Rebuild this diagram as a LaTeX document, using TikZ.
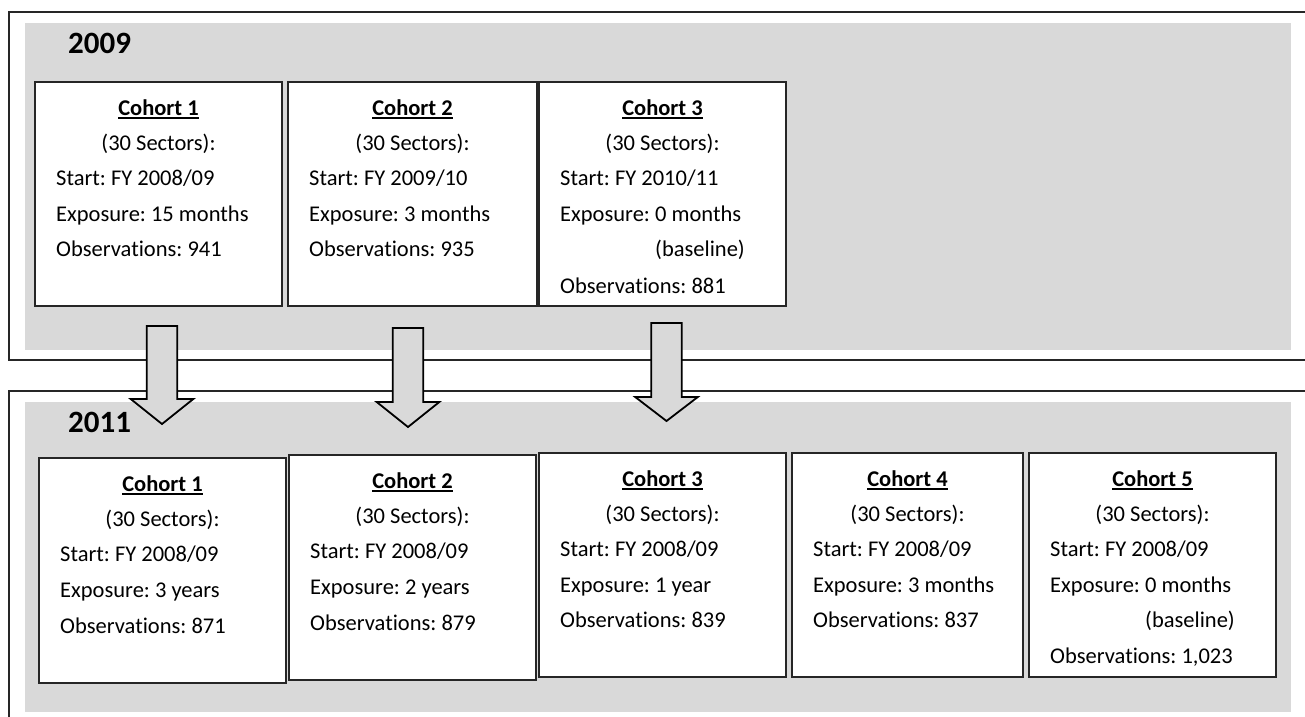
\documentclass[tikz,border=0pt]{standalone}
\usepackage{fontspec}
\setmainfont{Carlito}[Ligatures={NoCommon}]
\frenchspacing
\usetikzlibrary{calc}
\definecolor{panelgray}{RGB}{217,217,217}
\newcommand\myul[1]{\setbox0\hbox{#1}\rlap{\rule[-3.8pt]{\wd0}{1.8pt}}\box0}
\tikzset{
 frameline/.style={draw=black!85, line width=2pt},
 panel/.style={fill=panelgray, draw=none},
 cbox/.style={draw=black!85, line width=2.4pt, fill=white, inner sep=0pt, outer sep=0pt, anchor=north west},
 ctext/.style={font=\fontsize{22.5}{27}\selectfont, inner sep=0pt},
 ctitle/.style={font=\fontsize{22.5}{27}\selectfont\bfseries, inner sep=0pt, anchor=base},
 yearlabel/.style={font=\fontsize{31}{36}\selectfont\bfseries, inner sep=0pt, anchor=base west},
 blockarrow/.style={draw=black, line width=1.8pt, fill=panelgray, line join=miter},
}
% name, left, top, right, bottom, title, start, exposure
\newcommand\cohortbox[8]{%
 \node[cbox, minimum width={#4-#2}, minimum height={#5-#3}] (#1) at (#2,#3) {};
 \node[ctitle] (#1-t) at ($(#1.north)+(0,33)$) {\myul{#6}};
 \node[ctext, anchor=base] (#1-s) at ($(#1.north)+(0,68.4)$) {(30 Sectors):};
 \node[ctext, anchor=base west] (#1-st) at ($(#1.north west)+(21,103.8)$) {Start: FY #7};
 \node[ctext, anchor=base west] (#1-e) at ($(#1.north west)+(21,139.2)$) {Exposure: #8};
}
\newcommand\obsrow[3]{\node[ctext, anchor=base west] (#1-o) at ($(#1.north west)+(21,#2)$) {Observations: #3};}
\newcommand\baserow[1]{\node[ctext, anchor=base east] (#1-b) at ($(#1.north west)+(206,174.6)$) {(baseline)};}
% block arrow: name, center x, top, head base, tip
\newcommand\blockarr[5]{%
 \coordinate (#1-top) at (#2,#3);
 \coordinate (#1-tip) at (#2,#5);
 \draw[blockarrow] ($(#1-top)+(-15.3,0)$) -- ($(#1-top)+(15.3,0)$) -- (#2+15.3,#4) -- (#2+31.3,#4) -- (#1-tip) -- (#2-31.3,#4) -- (#2-15.3,#4) -- cycle;
}
\begin{document}
\begin{tikzpicture}[x=1pt,y=-1pt]
\useasboundingbox (0,0) rectangle (1305,716);
% frames
\draw[frameline] (1320,12) -- (9,12) -- (9,360) -- (1320,360);
\draw[frameline] (1320,391) -- (9,391) -- (9,730);
\fill[panel] (25,23) rectangle (1291,350);
\fill[panel] (25,402) rectangle (1291,712);
\node[yearlabel] (y2009) at (68,53) {2009};
\node[yearlabel] (y2011) at (68,432) {2011};
% 2009 cohorts
\cohortbox{t1}{35}{82}{282}{306}{Cohort 1}{2008/09}{15 months}
\obsrow{t1}{174.6}{941}
\cohortbox{t2}{288}{82}{537}{306}{Cohort 2}{2009/10}{3 months}
\obsrow{t2}{174.6}{935}
\cohortbox{t3}{539}{82}{786}{306}{Cohort 3}{2010/11}{0 months}
\baserow{t3}
\obsrow{t3}{211}{881}
% 2011 cohorts
\cohortbox{b1}{39}{458}{286}{683}{Cohort 1}{2008/09}{3 years}
\obsrow{b1}{175}{871}
\cohortbox{b2}{289}{455}{536}{680}{Cohort 2}{2008/09}{2 years}
\obsrow{b2}{175}{879}
\cohortbox{b3}{539}{453}{786}{677}{Cohort 3}{2008/09}{1 year}
\obsrow{b3}{174.6}{839}
\cohortbox{b4}{792}{453}{1023}{677}{Cohort 4}{2008/09}{3 months}
\obsrow{b4}{174.6}{837}
\cohortbox{b5}{1029}{453}{1276}{677}{Cohort 5}{2008/09}{0 months}
\baserow{b5}
\obsrow{b5}{210}{1,023}
% arrows
\blockarr{a1}{162}{326}{399}{424}
\blockarr{a2}{408}{328}{402}{427}
\blockarr{a3}{666.5}{323}{397}{421}
\end{tikzpicture}
\end{document}
